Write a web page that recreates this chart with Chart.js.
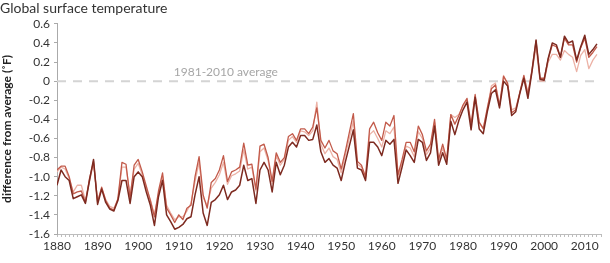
<!DOCTYPE html>
<html>
<head>
<meta charset="utf-8">
<title>Global surface temperature</title>
<script src="https://cdn.jsdelivr.net/npm/chart.js@4.4.1/dist/chart.umd.min.js"></script>
<style>
  html, body { margin: 0; padding: 0; background: #fff; }
  canvas { display: block; }
</style>
</head>
<body>
<canvas id="tempChart" width="610" height="263"></canvas>
<script>
// years 1880-2013, difference from 1981-2010 average in degrees F
const firstYear = 1880;
const lastYear = 2013;
const decadeTicks = [1880, 1890, 1900, 1910, 1920, 1930, 1940, 1950, 1960, 1970, 1980, 1990, 2000, 2010];
const yTicks = [0.6, 0.4, 0.2, 0, -0.2, -0.4, -0.6, -0.8, -1.0, -1.2, -1.4, -1.6];
const averageLine = [0, 0];

const darkSeries = [
  -1.09, -0.93, -1.00, -1.04, -1.23, -1.21, -1.19, -1.28, -1.04, -0.82,
  -1.29, -1.13, -1.27, -1.34, -1.36, -1.25, -1.04, -1.04, -1.28, -1.00,
  -0.95, -1.00, -1.16, -1.30, -1.51, -1.21, -1.04, -1.40, -1.47, -1.55,
  -1.53, -1.50, -1.44, -1.42, -1.19, -1.00, -1.38, -1.51, -1.27, -1.24,
  -1.19, -1.09, -1.24, -1.16, -1.14, -1.09, -0.88, -1.04, -1.02, -1.28,
  -0.93, -0.85, -0.93, -1.16, -0.85, -0.98, -0.88, -0.69, -0.64, -0.69,
  -0.57, -0.57, -0.62, -0.61, -0.46, -0.74, -0.85, -0.81, -0.88, -0.91,
  -1.04, -0.85, -0.68, -0.51, -0.91, -0.93, -1.04, -0.64, -0.64, -0.69,
  -0.78, -0.62, -0.66, -0.61, -1.07, -0.90, -0.72, -0.78, -0.85, -0.61,
  -0.64, -0.83, -0.75, -0.47, -0.88, -0.75, -0.87, -0.42, -0.56, -0.41,
  -0.30, -0.22, -0.51, -0.17, -0.50, -0.55, -0.32, -0.13, -0.09, -0.28,
   0.00, -0.05, -0.36, -0.32, -0.13, 0.03, -0.18, 0.10, 0.43, 0.02,
   0.01, 0.24, 0.40, 0.38, 0.25, 0.47, 0.40, 0.42, 0.22, 0.36,
   0.48, 0.28, 0.33, 0.39
];

const midSeries = [
  -0.93, -0.89, -0.89, -1.00, -1.18, -1.16, -1.15, -1.27, -1.02, -0.84,
  -1.27, -1.11, -1.25, -1.33, -1.35, -1.23, -0.85, -0.87, -1.22, -0.88,
  -0.82, -0.95, -1.10, -1.25, -1.42, -1.15, -0.96, -1.33, -1.40, -1.48,
  -1.40, -1.45, -1.33, -1.30, -1.00, -0.79, -1.19, -1.33, -1.06, -1.02,
  -0.93, -0.78, -1.05, -0.95, -0.93, -0.90, -0.65, -0.88, -0.87, -1.13,
  -0.68, -0.66, -0.80, -1.05, -0.75, -0.85, -0.80, -0.58, -0.55, -0.62,
  -0.50, -0.50, -0.55, -0.48, -0.28, -0.62, -0.70, -0.62, -0.73, -0.76,
  -0.92, -0.74, -0.54, -0.34, -0.84, -0.88, -1.00, -0.50, -0.43, -0.54,
  -0.62, -0.43, -0.47, -0.36, -0.98, -0.82, -0.64, -0.64, -0.74, -0.47,
  -0.56, -0.73, -0.66, -0.40, -0.82, -0.66, -0.82, -0.35, -0.45, -0.36,
  -0.25, -0.18, -0.45, -0.14, -0.43, -0.50, -0.28, -0.08, -0.04, -0.26,
   0.05, -0.02, -0.33, -0.30, -0.12, 0.06, -0.14, 0.12, 0.42, 0.03,
   0.03, 0.23, 0.38, 0.36, 0.25, 0.45, 0.38, 0.38, 0.20, 0.35,
   0.45, 0.25, 0.30, 0.36
];

const lightSeries = [
  -0.95, -0.90, -0.92, -1.02, -1.16, -1.09, -1.09, -1.25, -1.05, -0.86,
  -1.25, -1.12, -1.24, -1.31, -1.33, -1.24, -0.90, -0.90, -1.20, -0.92,
  -0.86, -0.98, -1.12, -1.24, -1.40, -1.18, -1.00, -1.30, -1.38, -1.45,
  -1.42, -1.42, -1.36, -1.28, -1.05, -0.85, -1.22, -1.30, -1.12, -1.06,
  -0.98, -0.85, -1.08, -0.99, -0.97, -0.94, -0.72, -0.92, -0.90, -1.15,
  -0.74, -0.70, -0.83, -1.07, -0.78, -0.88, -0.82, -0.62, -0.58, -0.64,
  -0.52, -0.53, -0.57, -0.52, -0.22, -0.66, -0.76, -0.70, -0.79, -0.82,
  -0.96, -0.78, -0.60, -0.42, -0.87, -0.90, -1.02, -0.56, -0.52, -0.60,
  -0.69, -0.52, -0.55, -0.48, -1.01, -0.86, -0.68, -0.70, -0.79, -0.53,
  -0.60, -0.77, -0.70, -0.43, -0.84, -0.70, -0.83, -0.35, -0.38, -0.35,
  -0.26, -0.20, -0.46, -0.16, -0.44, -0.49, -0.30, -0.05, -0.02, -0.25,
   0.06, -0.04, -0.30, -0.28, -0.12, 0.05, -0.12, 0.10, 0.35, 0.00,
   0.00, 0.20, 0.28, 0.28, 0.22, 0.32, 0.28, 0.25, 0.10, 0.27,
   0.33, 0.13, 0.22, 0.28
];

const years = darkSeries.map((v, i) => firstYear + i);
const toPoints = (series) => series.map((v, i) => ({ x: years[i], y: v }));

// text over the dashed zero line
const averageLabel = {
  id: 'averageLabel',
  afterDatasetsDraw(chart) {
    const { ctx, scales } = chart;
    const x = scales.x.getPixelForValue(1921.6);
    const y = scales.y.getPixelForValue(0);
    ctx.save();
    ctx.font = '12px Lato';
    ctx.fillStyle = '#a6a6a6';
    ctx.textAlign = 'center';
    ctx.textBaseline = 'alphabetic';
    ctx.fillText('1981-2010 average', x, y - 5);
    ctx.restore();
  }
};

const ctx = document.getElementById('tempChart').getContext('2d');
new Chart(ctx, {
  type: 'line',
  data: {
    datasets: [
      {
        label: 'dark',
        data: toPoints(darkSeries),
        borderColor: '#7d2a20',
        borderWidth: 1.5,
        order: 1
      },
      {
        label: 'mid',
        data: toPoints(midSeries),
        borderColor: '#c25a4a',
        borderWidth: 1.3,
        order: 2
      },
      {
        label: 'light',
        data: toPoints(lightSeries),
        borderColor: '#ecb2a6',
        borderWidth: 1.3,
        order: 3
      },
      {
        label: 'average',
        data: [{ x: firstYear, y: averageLine[0] }, { x: lastYear + 1, y: averageLine[1] }],
        borderColor: '#d4d4d4',
        borderWidth: 2,
        borderDash: [9, 7],
        order: 4
      }
    ]
  },
  options: {
    responsive: false,
    animation: false,
    devicePixelRatio: 1,
    layout: { padding: { left: 0, right: 9, top: 0, bottom: 0 } },
    elements: {
      point: { radius: 0 },
      line: { tension: 0, borderJoinStyle: 'round' }
    },
    plugins: {
      legend: { display: false },
      tooltip: { enabled: false },
      title: {
        display: true,
        text: 'Global surface temperature',
        align: 'start',
        color: '#333',
        font: { family: 'Lato', size: 14, weight: 'normal' },
        padding: { top: 0, bottom: 7 }
      }
    },
    scales: {
      x: {
        type: 'linear',
        min: firstYear,
        max: lastYear + 1,
        afterFit: (s) => { s.height = 29; },
        border: { color: '#bdbdbd' },
        grid: { drawOnChartArea: false, tickLength: 3, color: '#bdbdbd' },
        ticks: {
          stepSize: 1,
          autoSkip: false,
          maxRotation: 0,
          padding: 2,
          color: '#333',
          font: { family: 'Lato', size: 12 },
          callback: (v) => decadeTicks.includes(v) ? String(v) : ''
        }
      },
      y: {
        min: yTicks[yTicks.length - 1],
        max: yTicks[0],
        afterFit: (s) => { s.width = 57; },
        afterBuildTicks: (s) => { s.ticks = yTicks.map((v) => ({ value: v })); },
        border: { color: '#aaaaaa' },
        grid: { drawOnChartArea: false, tickLength: 3, color: '#aaaaaa' },
        ticks: {
          padding: 4,
          color: '#333',
          font: { family: 'Lato', size: 12 },
          callback: (v) => Math.abs(v) < 1e-9 ? '0' : v.toFixed(1)
        },
        title: {
          display: true,
          text: 'difference from average (˚F)',
          color: '#222',
          font: { family: 'Lato', size: 12, weight: 'bold' },
          padding: { top: 0, bottom: 2 }
        }
      }
    }
  },
  plugins: [averageLabel]
});
</script>
</body>
</html>
